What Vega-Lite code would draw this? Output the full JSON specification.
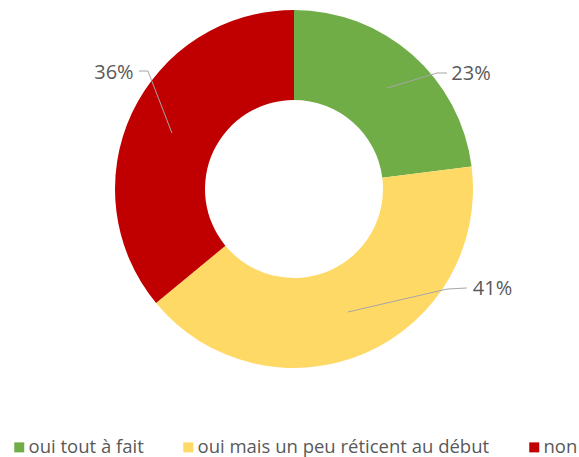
{
  "$schema": "https://vega.github.io/schema/vega-lite/v6.json",
  "width": 570,
  "height": 378,
  "autosize": "none",
  "padding": {"left": 9, "top": 0, "right": 0, "bottom": 79},
  "background": "white",
  "config": {"view": {"stroke": null}, "font": "Open Sans"},
  "datasets": {
    "slices": [
      {"category": "oui tout à fait", "pct": 23, "order": 1},
      {"category": "oui mais un peu réticent au début", "pct": 41, "order": 2},
      {"category": "non", "pct": 36, "order": 3}
    ],
    "leaders": [
      {"category": "oui tout à fait", "seq": 1, "x": 0.52, "y": 0.564},
      {"category": "oui tout à fait", "seq": 2, "x": 0.799, "y": 0.648},
      {"category": "oui tout à fait", "seq": 3, "x": 0.855, "y": 0.648},
      {"category": "oui mais un peu réticent au début", "seq": 1, "x": 0.302, "y": -0.687},
      {"category": "oui mais un peu réticent au début", "seq": 2, "x": 0.855, "y": -0.559},
      {"category": "oui mais un peu réticent au début", "seq": 3, "x": 0.966, "y": -0.553},
      {"category": "non", "seq": 1, "x": -0.682, "y": 0.313},
      {"category": "non", "seq": 2, "x": -0.816, "y": 0.659},
      {"category": "non", "seq": 3, "x": -0.866, "y": 0.659}
    ],
    "labels": [
      {"category": "oui tout à fait", "pct": 0.23, "x": 0.989, "y": 0.642},
      {"category": "oui mais un peu réticent au début", "pct": 0.41, "x": 1.109, "y": -0.559},
      {"category": "non", "pct": 0.36, "x": -1.006, "y": 0.648}
    ]
  },
  "layer": [
    {
      "data": {"name": "slices"},
      "mark": {"type": "arc", "innerRadius": 89, "outerRadius": 179},
      "encoding": {
        "theta": {"field": "pct", "type": "quantitative", "stack": true},
        "order": {"field": "order", "type": "quantitative"},
        "color": {
          "field": "category",
          "type": "nominal",
          "scale": {
            "domain": ["oui tout à fait", "oui mais un peu réticent au début", "non"],
            "range": ["#70AD47", "#FFD966", "#C00000"]
          },
          "legend": {
            "title": null,
            "orient": "none",
            "direction": "horizontal",
            "legendX": 1,
            "legendY": 438,
            "symbolType": "square",
            "symbolSize": 100,
            "symbolStrokeWidth": 0,
            "labelFontSize": 18.5,
            "labelColor": "#595959",
            "labelFont": "Open Sans",
            "labelOffset": 0,
            "labelLimit": 400,
            "columnPadding": 35
          }
        }
      }
    },
    {
      "data": {"name": "leaders"},
      "mark": {"type": "line", "color": "#A6A6A6", "strokeWidth": 1},
      "encoding": {
        "x": {"field": "x", "type": "quantitative", "scale": {"domain": [-1.5922, 1.5922], "nice": false, "zero": false}, "axis": null},
        "y": {"field": "y", "type": "quantitative", "scale": {"domain": [-1.0559, 1.0559], "nice": false, "zero": false}, "axis": null},
        "detail": {"field": "category", "type": "nominal"},
        "order": {"field": "seq", "type": "quantitative"}
      }
    },
    {
      "data": {"name": "labels"},
      "mark": {"type": "text", "align": "center", "baseline": "middle", "fontSize": 20, "color": "#595959", "font": "Open Sans"},
      "encoding": {
        "x": {"field": "x", "type": "quantitative", "scale": {"domain": [-1.5922, 1.5922], "nice": false, "zero": false}, "axis": null},
        "y": {"field": "y", "type": "quantitative", "scale": {"domain": [-1.0559, 1.0559], "nice": false, "zero": false}, "axis": null},
        "text": {"field": "pct", "type": "quantitative", "format": ".0%"}
      }
    }
  ]
}
